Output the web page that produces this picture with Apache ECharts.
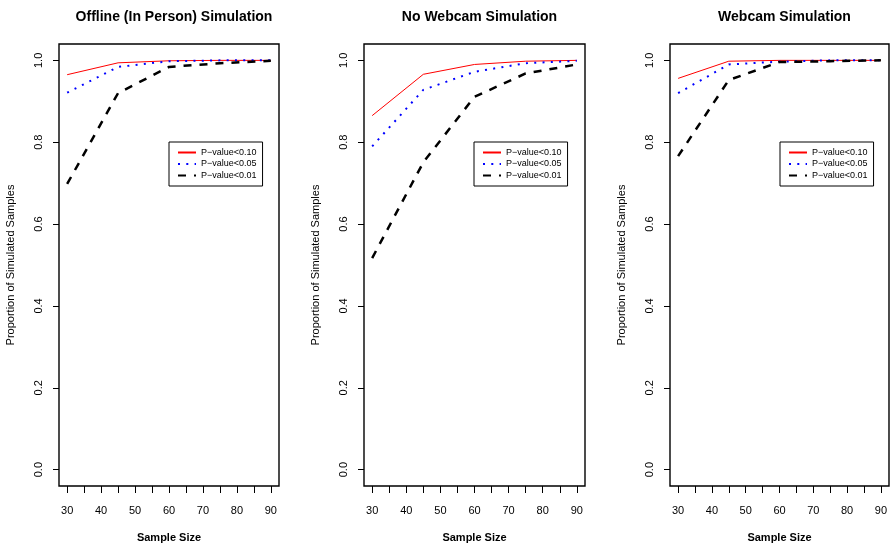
<!DOCTYPE html>
<html>
<head>
<meta charset="utf-8">
<script src="https://cdn.jsdelivr.net/npm/echarts@6/dist/echarts.min.js"></script>
<style>
  html, body { margin: 0; padding: 0; background: #fff; }
  #container { width: 890px; height: 548px; }
</style>
</head>
<body>
<div id="container"></div>
<script>
// sample sizes on the x axis
var sampleSizes = [30, 45, 60, 75, 90];
var panelTitles = ['Offline (In Person) Simulation', 'No Webcam Simulation', 'Webcam Simulation'];
var seriesNames = ['P\u2212value<0.10', 'P\u2212value<0.05', 'P\u2212value<0.01'];

// proportion of simulated samples, one array per panel and cutoff
var offline10 = [0.965, 0.994, 0.999, 1.0, 1.0];
var offline05 = [0.921, 0.984, 0.998, 1.0, 1.0];
var offline01 = [0.698, 0.920, 0.984, 0.993, 0.999];

var noWebcam10 = [0.865, 0.966, 0.990, 0.998, 1.0];
var noWebcam05 = [0.790, 0.928, 0.972, 0.993, 0.999];
var noWebcam01 = [0.517, 0.751, 0.911, 0.968, 0.990];

var webcam10 = [0.956, 0.998, 1.0, 1.0, 1.0];
var webcam05 = [0.920, 0.990, 0.997, 1.0, 1.0];
var webcam01 = [0.766, 0.952, 0.996, 0.998, 1.0];

var xTicks = [30, 35, 40, 45, 50, 55, 60, 65, 70, 75, 80, 85, 90];
var xLabels = [30, 40, 50, 60, 70, 80, 90];
var yTicks = [0, 0.2, 0.4, 0.6, 0.8, 1.0];

var panelData = [
    [offline10, offline05, offline01],
    [noWebcam10, noWebcam05, noWebcam01],
    [webcam10, webcam05, webcam01]
];

var panelLeft = [59, 364, 670];
var panelWidth = [220, 221, 219];
var legendLeft = [169, 474, 780];

var font = 'Liberation Sans, Arial, Helvetica, sans-serif';

var lineStyles = [
    { color: '#ff0000', width: 1, type: 'solid' },
    { color: '#0000ff', width: 2, type: [2, 6.3], cap: 'butt' },
    { color: '#000000', width: 2.5, type: [8, 8] }
];

function pairs(values) {
    return sampleSizes.map(function (x, i) { return [x, values[i]]; });
}

var grids = [], xAxes = [], yAxes = [], series = [], titles = [], legends = [];

panelTitles.forEach(function (t, p) {
    grids.push({
        left: panelLeft[p], width: panelWidth[p], top: 44, height: 445,
        show: true, borderColor: '#000', borderWidth: 1.4, backgroundColor: 'transparent'
    });
    titles.push({
        text: t,
        left: panelLeft[p] + panelWidth[p] / 2,
        textAlign: 'center',
        top: 5,
        textStyle: { fontFamily: font, fontSize: 14, fontWeight: 'bold', color: '#000' }
    });
    xAxes.push({
        gridIndex: p, type: 'value', min: 27.6, max: 92.4,
        name: 'Sample Size', nameLocation: 'middle', nameGap: 46,
        nameTextStyle: { fontFamily: font, fontSize: 11, fontWeight: 'bold', color: '#000' },
        axisLine: { show: false, onZero: false },
        splitLine: { show: false },
        axisTick: { show: true, length: 7, customValues: xTicks, lineStyle: { color: '#000', width: 1 } },
        axisLabel: { customValues: xLabels, margin: 19, fontFamily: font, fontSize: 11, color: '#000' }
    });
    yAxes.push({
        gridIndex: p, type: 'value', min: -0.04, max: 1.04,
        name: 'Proportion of Simulated Samples', nameLocation: 'middle', nameGap: 43, nameRotate: 90,
        nameTextStyle: { fontFamily: font, fontSize: 11, color: '#000' },
        axisLine: { show: false, onZero: false },
        splitLine: { show: false },
        axisTick: { show: true, length: 6, customValues: yTicks, lineStyle: { color: '#000', width: 1 } },
        axisLabel: {
            customValues: yTicks, rotate: 90, margin: 15,
            fontFamily: font, fontSize: 11, color: '#000',
            formatter: function (v) { return v.toFixed(1); }
        }
    });
    panelData[p].forEach(function (vals, s) {
        series.push({
            name: seriesNames[s],
            type: 'line',
            xAxisIndex: p, yAxisIndex: p,
            data: pairs(vals),
            symbol: 'none',
            lineStyle: lineStyles[s],
            itemStyle: { color: lineStyles[s].color },
            silent: true
        });
    });
    legends.push({
        data: seriesNames,
        orient: 'vertical',
        left: legendLeft[p], top: 142,
        width: 92,
        borderColor: '#000', borderWidth: 1, borderRadius: 0,
        backgroundColor: '#fff',
        padding: [6, 6, 6, 8],
        itemWidth: 18, itemHeight: 9, itemGap: 2.5,
        selectedMode: false,
        itemStyle: { opacity: 0 },
        textStyle: { fontFamily: font, fontSize: 9, color: '#000' }
    });
});

var myChart = echarts.init(document.getElementById('container'), null, { renderer: 'canvas' });
var option = {
    animation: false,
    backgroundColor: '#fff',
    title: titles,
    legend: legends,
    grid: grids,
    xAxis: xAxes,
    yAxis: yAxes,
    series: series
};
myChart.setOption(option);
</script>
</body>
</html>
